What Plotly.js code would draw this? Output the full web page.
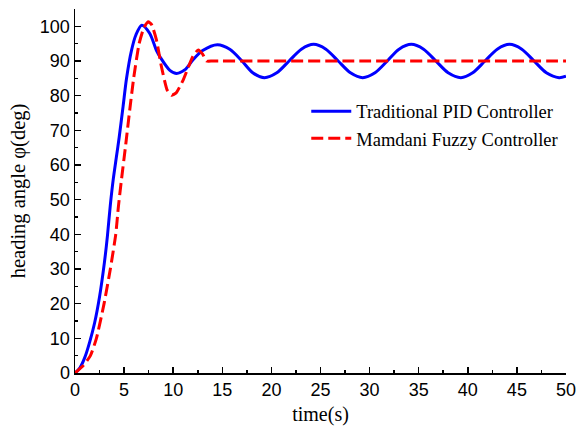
<!DOCTYPE html>
<html>
<head>
<meta charset="utf-8">
<script src="https://cdn.plot.ly/plotly-3.0.1.min.js"></script>
<style>html,body{margin:0;padding:0;background:#fff;}#chart{width:576px;height:433px;}</style>
</head>
<body>
<div id="chart"></div>
<script>
// Traditional PID controller (blue solid)
const pidTime = [0, 0.5, 1.0, 1.5, 2.0, 2.5, 3.0, 3.3, 3.6, 3.9, 4.2, 4.5, 4.9, 5.25, 5.75, 6.2, 6.8, 7.6, 8.3, 8.7, 9.66, 10.35, 11.2, 12.0, 13.0, 14.5, 15.8, 17.0, 18.1, 19.3, 20.55, 21.8, 23.05, 24.3, 25.55, 26.8, 28.05, 29.3, 30.55, 31.8, 33.0, 34.25, 35.5, 36.75, 38.0, 39.3, 40.5, 41.75, 43.0, 44.25, 45.5, 46.75, 48.0, 49.3, 50];
const pidAngle = [0, 1.5, 4.5, 9, 14.5, 22, 32, 39.5, 48.5, 56, 62, 68, 77, 85, 93, 97.5, 100.3, 98, 93, 91, 87.3, 86.4, 87.5, 90.3, 93, 94.7, 93.3, 90, 86.6, 85.2, 86.6, 90, 93.4, 94.8, 93.4, 90, 86.6, 85.2, 86.6, 90, 93.4, 94.8, 93.4, 90, 86.6, 85.2, 86.6, 90, 93.4, 94.8, 93.4, 90, 86.6, 85.2, 85.6];

// Mamdani fuzzy controller (red dashed)
const fuzzyTime = [0, 0.8, 1.57, 2.18, 2.96, 3.6, 4.15, 4.42, 4.7, 5.17, 5.58, 5.99, 6.53, 7.0, 7.45, 7.8, 8.3, 8.8, 9.39, 9.83, 10.3, 11.0, 12.0, 12.55, 13.0, 13.4, 14.0, 15.0, 20, 30, 40, 50];
const fuzzyAngle = [0, 2, 5, 10, 20, 30, 40, 48, 55, 66, 76, 85.4, 95, 99.5, 101.3, 100.5, 96, 88.4, 81.6, 80.1, 80.8, 84.4, 91.3, 93.2, 92, 90, 90, 90, 90, 90, 90, 90];

const seriesNames = ["Traditional PID Controller", "Mamdani Fuzzy Controller"];
const xTitle = "time(s)";
const yTitle = "heading angle φ(deg)";

const serif = "Liberation Serif, Times New Roman, serif";
const sans = "Liberation Sans, Arial, sans-serif";

const traces = [
  {x: pidTime, y: pidAngle, name: seriesNames[0], mode: "lines",
   line: {color: "#0000ff", width: 3, shape: "spline", smoothing: 0.8}},
  {x: fuzzyTime, y: fuzzyAngle, name: seriesNames[1], mode: "lines",
   line: {color: "#ff0000", width: 3, dash: "12px,5px", shape: "spline", smoothing: 0.5}}
];

const layout = {
  width: 576, height: 433,
  margin: {l: 75, r: 10, t: 9, b: 60},
  paper_bgcolor: "#fff", plot_bgcolor: "#fff",
  showlegend: true,
  legend: {x: 0.471, y: 0.77, xanchor: "left", yanchor: "top",
           font: {family: serif, size: 18.5, color: "#000"},
           bgcolor: "rgba(0,0,0,0)", tracegroupgap: 0, itemwidth: 40},
  xaxis: {
    range: [0, 50.001], dtick: 5, tick0: 0,
    showgrid: false, zeroline: false, showline: true, linecolor: "#000", linewidth: 1.5,
    ticks: "inside", ticklen: 6, tickwidth: 1.5, tickcolor: "#000",
    minor: {ticks: "inside", dtick: 2.5, ticklen: 3, tickwidth: 1.5, tickcolor: "#000"},
    tickfont: {family: sans, size: 18, color: "#000"},
    ticklabeloverflow: "allow",
    title: {text: xTitle, font: {family: serif, size: 20, color: "#000"}, standoff: 8}
  },
  yaxis: {
    range: [0, 105], dtick: 10, tick0: 0,
    showgrid: false, zeroline: false, showline: true, linecolor: "#000", linewidth: 1.5,
    ticks: "inside", ticklen: 6, tickwidth: 1.5, tickcolor: "#000",
    minor: {ticks: "inside", dtick: 5, ticklen: 3, tickwidth: 1.5, tickcolor: "#000"},
    tickfont: {family: sans, size: 18, color: "#000"},
    ticklabelstandoff: 0,
    title: {text: yTitle, font: {family: serif, size: 20.5, color: "#000"}, standoff: 8}
  }
};

Plotly.newPlot("chart", traces, layout, {displayModeBar: false, staticPlot: true});
</script>
</body>
</html>
